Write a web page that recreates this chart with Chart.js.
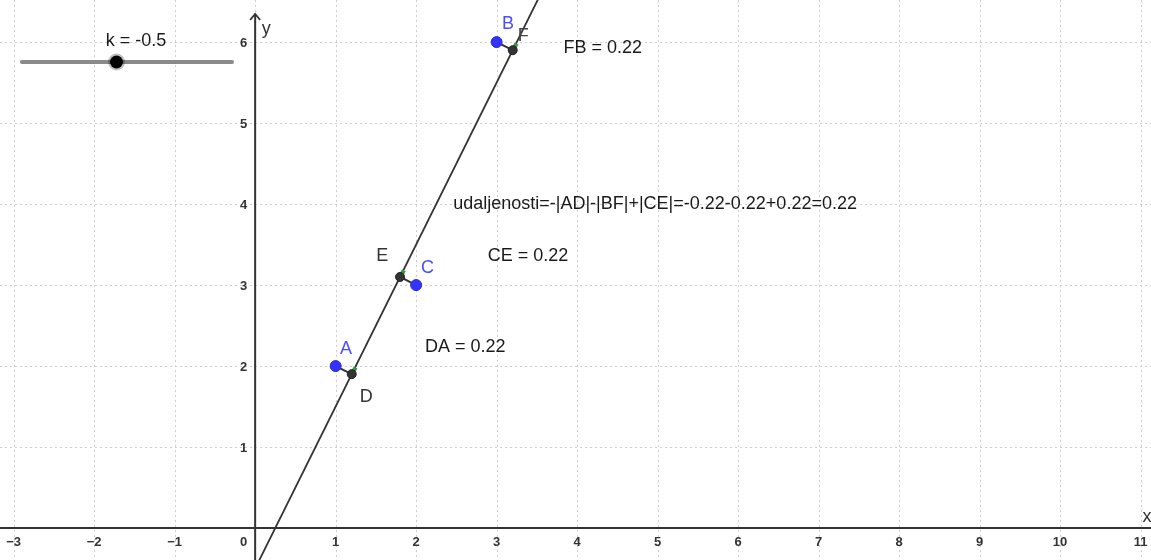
<!DOCTYPE html>
<html>
<head>
<meta charset="utf-8">
<script src="https://cdn.jsdelivr.net/npm/chart.js@4.4.1/dist/chart.umd.min.js"></script>
<style>
html,body{margin:0;padding:0;background:#fff;overflow:hidden;}
canvas{display:block;}
</style>
</head>
<body>
<canvas id="c" width="1151" height="560"></canvas>
<script>
// ---- data ----
const xTicks = [-3, -2, -1, 1, 2, 3, 4, 5, 6, 7, 8, 9, 10, 11];
const yTicks = [1, 2, 3, 4, 5, 6];
const gridX = [-3, -2, -1, 0, 1, 2, 3, 4, 5, 6, 7, 8, 9, 10, 11];
const gridY = [0, 1, 2, 3, 4, 5, 6];
const pointNames = ['A', 'B', 'C'];
const pointX = [1, 3, 2];
const pointY = [2, 6, 3];
const footNames = ['D', 'F', 'E'];
const footX = [1.2, 3.2, 1.8];
const footY = [1.9, 5.9, 3.1];
const lineX = [-0.25, 3.75];   // y = 2x + k, k = -0.5
const lineY = [-1, 7];
const sliderK = -0.5;
const sliderMin = -5, sliderMax = 5;
const labelNames = ['A', 'B', 'C', 'D', 'E', 'F'];
const labelX = [1.13, 3.14, 2.14, 1.38, 1.58, 3.33];
const labelY = [2.21, 6.22, 3.21, 1.62, 3.36, 6.07];
const labelColors = ['#4d4dff', '#4d4dff', '#4d4dff', '#333', '#333', '#444'];
const textStrings = ['FB = 0.22', 'udaljenosti=-|AD|-|BF|+|CE|=-0.22-0.22+0.22=0.22', 'CE = 0.22', 'DA = 0.22'];
const textX = [3.83, 2.46, 2.89, 2.11];
const textY = [5.93, 4.0, 3.36, 2.23];

const FONT = '"Liberation Sans", Arial, sans-serif';

const segData = [];
for (let i = 0; i < pointX.length; i++) {
  segData.push({x: pointX[i], y: pointY[i]});
  segData.push({x: footX[i], y: footY[i]});
  segData.push({x: NaN, y: NaN});
}

const overlay = {
  id: 'overlay',
  beforeDatasetsDraw(chart) {
    const ctx = chart.ctx, xs = chart.scales.x, ys = chart.scales.y;
    const x0 = xs.getPixelForValue(0), y0 = ys.getPixelForValue(0);
    ctx.save();
    // dotted grid
    ctx.strokeStyle = '#cfcfcf';
    ctx.lineWidth = 1;
    ctx.setLineDash([2, 3]);
    ctx.beginPath();
    gridX.forEach(v => { const p = Math.round(xs.getPixelForValue(v)) + 0.5; ctx.moveTo(p, 0); ctx.lineTo(p, chart.height); });
    gridY.forEach(v => { const p = Math.round(ys.getPixelForValue(v)) + 0.5; ctx.moveTo(0, p); ctx.lineTo(chart.width, p); });
    ctx.stroke();
    ctx.setLineDash([]);
    // axes
    ctx.strokeStyle = '#333';
    ctx.lineWidth = 2;
    ctx.beginPath();
    ctx.moveTo(0, y0); ctx.lineTo(chart.width, y0);
    ctx.moveTo(x0, chart.height); ctx.lineTo(x0, 14);
    ctx.stroke();
    ctx.lineWidth = 1.8;
    ctx.beginPath();
    ctx.moveTo(x0 - 5, 20); ctx.lineTo(x0, 14); ctx.lineTo(x0 + 5, 20);
    ctx.stroke();
    // tick labels
    ctx.fillStyle = '#333';
    ctx.font = 'bold 13px ' + FONT;
    ctx.textAlign = 'center'; ctx.textBaseline = 'middle';
    xTicks.forEach(v => {
      ctx.fillText(v < 0 ? '\u2212' + Math.abs(v) : String(v), xs.getPixelForValue(v), y0 + 14);
    });
    ctx.textAlign = 'right';
    yTicks.forEach(v => ctx.fillText(String(v), x0 - 8, ys.getPixelForValue(v) + 1));
    ctx.fillText('0', x0 - 8, y0 + 14);
    ctx.restore();
  },
  afterDatasetsDraw(chart) {
    const ctx = chart.ctx, xs = chart.scales.x, ys = chart.scales.y;
    const x0 = xs.getPixelForValue(0), y0 = ys.getPixelForValue(0);
    ctx.save();
    ctx.textBaseline = 'middle';
    // axis names
    ctx.font = '18px ' + FONT;
    ctx.fillStyle = '#333';
    ctx.textAlign = 'center';
    ctx.fillText('y', x0 + 11, 29);
    ctx.fillText('x', chart.width - 4, y0 - 11);
    // point labels
    labelNames.forEach((n, i) => {
      ctx.fillStyle = labelColors[i];
      ctx.fillText(n, xs.getPixelForValue(labelX[i]), ys.getPixelForValue(labelY[i]));
    });
    // texts
    ctx.textAlign = 'left';
    ctx.fillStyle = '#1a1a1a';
    textStrings.forEach((t, i) => ctx.fillText(t, xs.getPixelForValue(textX[i]), ys.getPixelForValue(textY[i])));
    // slider widget
    const sx0 = 22, sx1 = 232, sy = 62;
    ctx.strokeStyle = '#8a8a8a';
    ctx.lineWidth = 4;
    ctx.lineCap = 'round';
    ctx.beginPath(); ctx.moveTo(sx0, sy); ctx.lineTo(sx1, sy); ctx.stroke();
    const kx = sx0 + (sx1 - sx0) * (sliderK - sliderMin) / (sliderMax - sliderMin);
    ctx.fillStyle = 'rgba(0,0,0,0.25)';
    ctx.beginPath(); ctx.arc(kx, sy, 8.5, 0, Math.PI * 2); ctx.fill();
    ctx.fillStyle = '#000';
    ctx.beginPath(); ctx.arc(kx, sy, 6.5, 0, Math.PI * 2); ctx.fill();
    ctx.fillStyle = '#1a1a1a';
    ctx.textAlign = 'center';
    ctx.fillText('k = ' + sliderK, 136, 41);
    ctx.restore();
  }
};

new Chart(document.getElementById('c'), {
  type: 'scatter',
  data: {
    datasets: [
      {
        label: 'line',
        data: lineX.map((x, i) => ({x, y: lineY[i]})),
        showLine: true, borderColor: '#333', borderWidth: 1.8,
        pointRadius: 0, fill: false, order: 5
      },
      {
        label: 'segments',
        data: segData,
        showLine: true, spanGaps: false, borderColor: '#333', borderWidth: 2,
        pointRadius: 0, order: 4
      },
      {
        label: 'marks',
        data: footX.map((x, i) => ({x: x + 0.035, y: footY[i] + 0.06})),
        pointStyle: 'rect', pointRadius: 3, rotation: 27,
        backgroundColor: '#3c9a3c', borderColor: '#3c9a3c', borderWidth: 0, order: 3
      },
      {
        label: 'feet',
        data: footX.map((x, i) => ({x, y: footY[i]})),
        pointRadius: 4.5, backgroundColor: '#333', borderColor: '#222', borderWidth: 1, order: 2
      },
      {
        label: 'points',
        data: pointX.map((x, i) => ({x, y: pointY[i]})),
        pointRadius: 5.5, backgroundColor: '#3333ff', borderColor: '#2a2acc', borderWidth: 1, order: 1
      }
    ]
  },
  options: {
    responsive: false,
    animation: false,
    devicePixelRatio: 1,
    layout: {padding: 0, autoPadding: false},
    plugins: {legend: {display: false}, tooltip: {enabled: false}},
    scales: {
      x: {type: 'linear', min: -3.17, max: 11.13, display: false},
      y: {type: 'linear', min: -0.395, max: 6.52, display: false}
    }
  },
  plugins: [overlay]
});
</script>
</body>
</html>
